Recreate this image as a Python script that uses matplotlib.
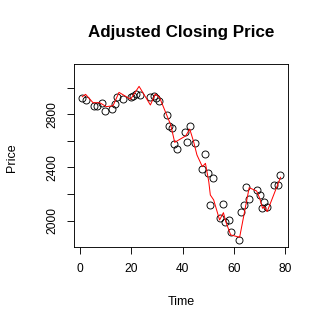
import numpy as np
import matplotlib
matplotlib.use("Agg")
import matplotlib.pyplot as plt

# pontos observados (tempo, preco ajustado)
tempo = [0.8, 2.4, 5.7, 6.9, 8.8, 10.0, 12.7, 13.6, 14.6, 16.7, 19.9, 20.9, 21.8, 23.4,
         27.5, 28.9, 29.8, 30.7, 33.8, 34.7, 36.0, 36.8, 37.8, 40.8, 41.9, 42.8, 44.8,
         47.7, 48.9, 49.9, 50.8, 51.7, 54.6, 55.8, 56.7, 57.9, 58.7, 61.9, 62.8, 63.7,
         64.8, 65.9, 68.8, 70.0, 70.8, 71.8, 73.0, 75.6, 77.0, 77.8]
preco = [2924, 2908, 2860, 2862, 2885, 2825, 2841, 2877, 2929, 2915, 2932, 2938, 2956, 2943,
         2929, 2940, 2925, 2902, 2796, 2712, 2699, 2574, 2539, 2669, 2589, 2712, 2586,
         2386, 2504, 2356, 2118, 2319, 2018, 2123, 1990, 2005, 1917, 1857, 2068, 2118,
         2256, 2161, 2231, 2191, 2093, 2141, 2101, 2268, 2268, 2344]

# linha vermelha
tempo_linha = [1.0, 2.3, 5.2, 7.8, 10.4, 13.0, 15.3, 19.8, 23.1, 27.5, 29.4, 31.1, 35.4,
               36.95, 41.2, 42.8, 44.3, 45.6, 47.7, 48.9, 50.2, 50.8, 52.1, 54.4, 55.9,
               56.8, 58.7, 62.2, 65.9, 68.8, 70.0, 71.1, 71.8, 72.9, 78.1]
preco_linha = [2932, 2950, 2887, 2887, 2857, 2865, 2965, 2913, 3010, 2870, 2953, 2925, 2720,
               2589, 2637, 2689, 2594, 2494, 2406, 2431, 2293, 2193, 2156, 2005, 2060,
               1993, 1893, 1875, 2248, 2223, 2168, 2093, 2105, 2068, 2326]

yticks = [2000, 2200, 2400, 2600, 2800, 3000]
ylabels = ['2000', '', '2400', '', '2800', '']
xticks = [0, 20, 40, 60, 80]

plt.rcParams['font.family'] = 'Liberation Sans'

fig = plt.figure(figsize=(327/72, 327/72), dpi=72)
ax = fig.add_axes([74/327, 1-246.7/327, 214/327, 182.4/327])

ax.plot(tempo, preco, 'o', mfc='none', mec='black', ms=7, mew=0.9)
ax.plot(tempo_linha, preco_linha, color='red', lw=1)

ax.set_xlim(-2.2, 81)
ax.set_ylim(1804, 3176)
ax.set_xticks(xticks)
ax.set_yticks(yticks)
ax.set_yticklabels(ylabels, rotation=90, va='center')
ax.tick_params(length=7, width=0.9, labelsize=12, pad=9)
for s in ax.spines.values():
    s.set_linewidth(0.9)

fig.text(181/327, 1-33/327, 'Adjusted Closing Price', fontsize=17, fontweight='bold',
         ha='center', va='center')
fig.text(181/327, 1-301.7/327, 'Time', fontsize=12.5, ha='center', va='center')
fig.text(11.7/327, 1-158/327, 'Price', fontsize=12.5, ha='center', va='center', rotation=90)

fig.savefig('out.png', dpi=72)
